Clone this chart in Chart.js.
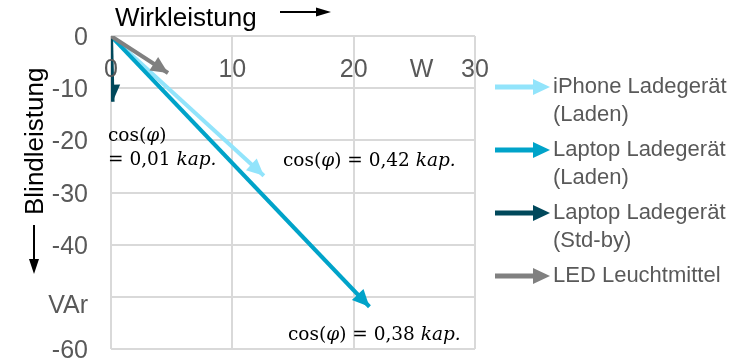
<!DOCTYPE html>
<html>
<head>
<meta charset="utf-8">
<script src="https://cdn.jsdelivr.net/npm/chart.js@4.4.0/dist/chart.umd.min.js"></script>
<style>
    html, body { margin: 0; padding: 0; background: #fff; }
</style>
</head>
<body>
<canvas id="c" width="735" height="360"></canvas>
<script>
// Zeiger: Wirkleistung P (W) und Blindleistung Q (VAr)
const seriesNames = [
    ["iPhone Ladegerät", "(Laden)"],
    ["Laptop Ladegerät", "(Laden)"],
    ["Laptop Ladegerät", "(Std-by)"],
    ["LED Leuchtmittel"]
];
const pWatt = [12.6, 21.3, 0.13, 4.7];
const qVar = [-26.8, -51.9, -12.6, -7.1];
const seriesColors = ["#92e4fb", "#00a3c9", "#00485b", "#808080"];

const xTickValues = [0, 10, 20, 25.6, 30];
const xTickLabels = ["0", "10", "20", "W", "30"];
const yTickValues = [0, -10, -20, -30, -40, -51.3, -60];
const yTickLabels = ["0", "-10", "-20", "-30", "-40", "VAr", "-60"];

const SANS = '"Liberation Sans", Arial, sans-serif';
const SERIF = '"DejaVu Serif", serif';

function arrowHead(ctx, x0, y0, x1, y1, len, half, color) {
    const a = Math.atan2(y1 - y0, x1 - x0);
    const c = Math.cos(a), s = Math.sin(a);
    const bx = x1 - len * c, by = y1 - len * s;
    ctx.fillStyle = color;
    ctx.beginPath();
    ctx.moveTo(x1, y1);
    ctx.lineTo(bx - half * s, by + half * c);
    ctx.lineTo(bx + half * s, by - half * c);
    ctx.closePath();
    ctx.fill();
}

function mixedText(ctx, parts, x, y, size) {
    ctx.fillStyle = "#000";
    ctx.textAlign = "left";
    ctx.textBaseline = "alphabetic";
    parts.forEach(p => {
        ctx.font = (p[1] ? "italic " : "") + size + "px " + SERIF;
        ctx.fillText(p[0], x, y);
        x += ctx.measureText(p[0]).width;
    });
}

const arrowPlugin = {
    id: "arrows",
    afterDatasetDraw(chart, args) {
        const pts = args.meta.data;
        if (pts.length < 2) return;
        const ctx = chart.ctx;
        const area = chart.chartArea;
        ctx.save();
        ctx.beginPath();
        ctx.rect(area.left, area.top, area.right - area.left, area.bottom - area.top);
        ctx.clip();
        arrowHead(ctx, pts[0].x, pts[0].y, pts[1].x, pts[1].y, 17, 8, seriesColors[args.index]);
        ctx.restore();
    },
    afterDraw(chart) {
        const ctx = chart.ctx;
        const xs = chart.scales.x, ys = chart.scales.y;
        ctx.save();

        // Achsbeschriftungen
        ctx.fillStyle = "#595959";
        ctx.font = "25px " + SANS;
        ctx.textBaseline = "alphabetic";
        ctx.textAlign = "center";
        xTickValues.forEach((v, i) => {
            ctx.fillText(xTickLabels[i], xs.getPixelForValue(v), 77);
        });
        ctx.textAlign = "right";
        yTickValues.forEach((v, i) => {
            ctx.fillText(yTickLabels[i], 88, ys.getPixelForValue(v) + 9);
        });

        // Achsentitel
        ctx.fillStyle = "#000";
        ctx.font = "26px " + SANS;
        ctx.textAlign = "left";
        ctx.fillText("Wirkleistung", 115, 26);
        ctx.strokeStyle = "#000";
        ctx.lineWidth = 2;
        ctx.beginPath();
        ctx.moveTo(280, 12);
        ctx.lineTo(318, 12);
        ctx.stroke();
        arrowHead(ctx, 280, 12, 331, 12, 15, 4.5, "#000");

        ctx.save();
        ctx.translate(43, 215);
        ctx.rotate(-Math.PI / 2);
        ctx.fillText("Blindleistung", 0, 0);
        ctx.restore();
        ctx.beginPath();
        ctx.moveTo(34, 225);
        ctx.lineTo(34, 262);
        ctx.stroke();
        arrowHead(ctx, 34, 225, 34, 274, 15, 5, "#000");

        // Legende
        seriesNames.forEach((lines, i) => {
            const y = 87 + i * 63;
            ctx.strokeStyle = seriesColors[i];
            ctx.lineWidth = 5;
            ctx.beginPath();
            ctx.moveTo(495, y);
            ctx.lineTo(536, y);
            ctx.stroke();
            arrowHead(ctx, 495, y, 550, y, 17, 8, seriesColors[i]);
            ctx.fillStyle = "#595959";
            ctx.font = "22px " + SANS;
            ctx.textAlign = "left";
            lines.forEach((t, j) => ctx.fillText(t, 553, y + 6 + j * 28));
        });

        // Leistungsfaktoren
        mixedText(ctx, [["cos(", 0], ["φ", 1], [")", 0]], 108, 141, 18.5);
        mixedText(ctx, [["= 0,01 ", 0], ["kap.", 1]], 108, 165, 18.5);
        mixedText(ctx, [["cos(", 0], ["φ", 1], [") = 0,42 ", 0], ["kap.", 1]], 283, 166, 18.5);
        mixedText(ctx, [["cos(", 0], ["φ", 1], [") = 0,38 ", 0], ["kap.", 1]], 288, 340, 18.5);

        ctx.restore();
    }
};

const drawOrder = [3, 2, 1, 0];
const datasets = seriesNames.map((lines, i) => ({
    label: lines.join(" "),
    data: [{x: 0, y: 0}, {x: pWatt[i], y: qVar[i]}],
    showLine: true,
    borderColor: seriesColors[i],
    backgroundColor: seriesColors[i],
    borderWidth: 4,
    pointRadius: 0,
    order: drawOrder[i]
}));

new Chart(document.getElementById("c"), {
    type: "scatter",
    data: {datasets: datasets},
    options: {
        responsive: false,
        animation: false,
        devicePixelRatio: 1,
        layout: {padding: {left: 111, top: 36, right: 260, bottom: 11}},
        plugins: {
            legend: {display: false},
            tooltip: {enabled: false}
        },
        scales: {
            x: {
                type: "linear",
                position: "top",
                min: 0,
                max: 30,
                ticks: {display: false, stepSize: 10},
                grid: {color: "#d9d9d9", lineWidth: 2, drawTicks: false},
                border: {display: false}
            },
            y: {
                type: "linear",
                min: -60,
                max: 0,
                ticks: {display: false, stepSize: 10},
                grid: {color: "#d9d9d9", lineWidth: 2, drawTicks: false},
                border: {display: false}
            }
        }
    },
    plugins: [arrowPlugin]
});
</script>
</body>
</html>
